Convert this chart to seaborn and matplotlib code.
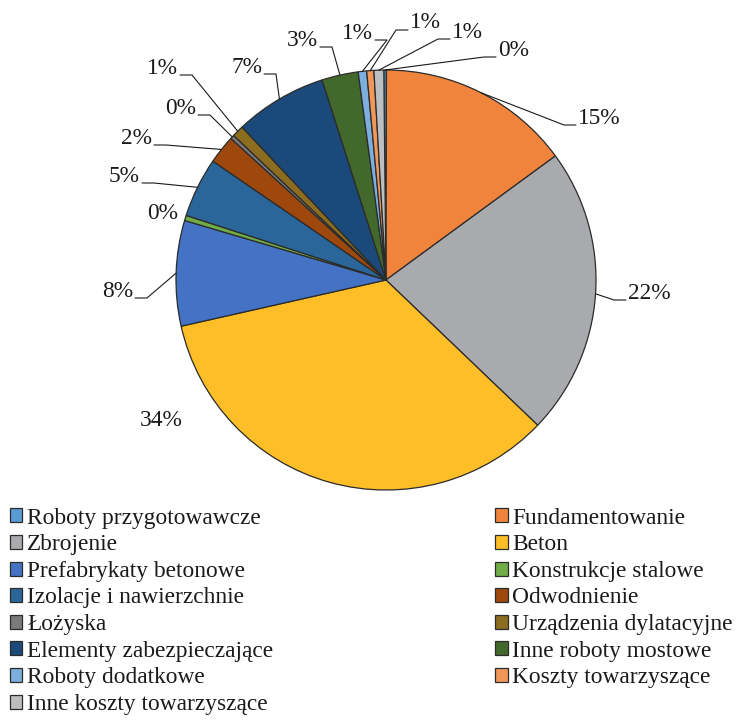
import numpy as np
import matplotlib
matplotlib.use('Agg')
import matplotlib.pyplot as plt
import seaborn as sns

# data (share of cost, %)
categories = ['Roboty przygotowawcze', 'Fundamentowanie', 'Zbrojenie', 'Beton',
              'Prefabrykaty betonowe', 'Konstrukcje stalowe', 'Izolacje i nawierzchnie',
              'Odwodnienie', 'Łożyska', 'Urządzenia dylatacyjne', 'Elementy zabezpieczające',
              'Inne roboty mostowe', 'Roboty dodatkowe', 'Koszty towarzyszące',
              'Inne koszty towarzyszące']
shares = [0.2, 14.9, 22.2, 34.3, 8.1, 0.4, 4.6, 2.2, 0.3, 0.9, 7.1, 2.8, 0.65, 0.55, 0.75]
colors = ['#5B9BD5', '#F0843C', '#A9AAAD', '#FDBE28', '#4472C4', '#70AD47', '#2A6699',
          '#9E480E', '#7A7A7A', '#8C6D1F', '#1B4A7A', '#43682B', '#7CAFDD', '#F1975A',
          '#BDBEC0']

# label placement (pixels) and whether a leader line is drawn
label_px = [(498, 50, 'left'), (578, 118, 'left'), (628, 293, 'left'), (183, 420, 'right'),
            (133, 291, 'right'), (178, 213, 'right'), (140, 176, 'right'), (152, 138, 'right'),
            (196, 108, 'right'), (178, 68, 'right'), (262, 67, 'right'), (318, 40, 'right'),
            (373, 33, 'right'), (410, 23, 'left'), (452, 32, 'left')]
leader = [True, True, True, False, True, False, True, True, True, True, True, True,
          True, True, True]

sns.set_theme(style='white')
plt.rcParams['font.family'] = ['Liberation Serif', 'DejaVu Serif']

W, H = 743, 720
CX, CY, R = 386, 280, 210


def px(x, y):
    return (x - CX) / R, (CY - y) / R


fig = plt.figure(figsize=(W / 100, H / 100), dpi=100)
ax = fig.add_axes([0, 0, 1, 1])

wedges, _ = ax.pie(shares, colors=colors, startangle=90.6, counterclock=False,
                   wedgeprops=dict(edgecolor='#2b2b2b', linewidth=0.9))
ax.set_xlim(px(0, 0)[0], px(W, 0)[0])
ax.set_ylim(px(0, H)[1], px(0, 0)[1])
ax.set_aspect('equal')
ax.axis('off')

fs = 16.8
for w, v, (lx, ly, side), ld in zip(wedges, shares, label_px, leader):
    ang = np.deg2rad((w.theta1 + w.theta2) / 2)
    ex, ey = np.cos(ang), np.sin(ang)
    ax.text(*px(lx, ly), f'{round(v)}%', ha=side, va='center', fontsize=fs, color='#1a1a1a')
    if ld:
        sgn = -1 if side == 'left' else 1
        ax0 = lx + sgn * 2
        elb = lx + sgn * 14
        pts = [(ex, ey), px(elb, ly + 7), px(ax0, ly + 7)]
        xs, ys = zip(*pts)
        ax.plot(xs, ys, color='#1a1a1a', lw=0.8)

order = list(range(0, 15, 2)) + list(range(1, 15, 2))
leg = ax.legend([wedges[i] for i in order], [categories[i] for i in order],
                ncol=2, loc='upper left', bbox_to_anchor=(0.013, 0.295),
                frameon=False, fontsize=fs, handlelength=0.55, handleheight=0.55,
                handletextpad=0.2, columnspacing=9.5, labelspacing=0.24,
                borderaxespad=0, borderpad=0)
for t in leg.get_texts():
    t.set_color('#1a1a1a')

fig.savefig('out.png', dpi=100)
